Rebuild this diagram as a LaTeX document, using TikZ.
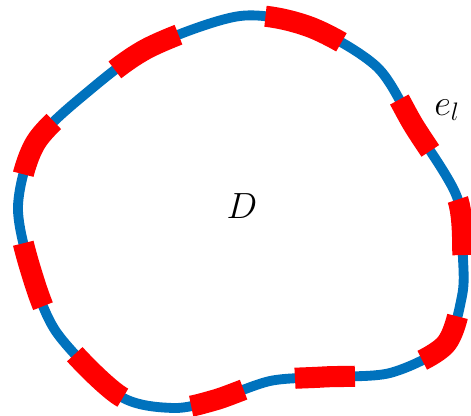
\documentclass[tikz,border=0pt]{standalone}
\usepackage{amsmath}
\usepackage{tikz}
\usetikzlibrary{positioning}
\definecolor{bndblue}{RGB}{0,114,189}

\begin{document}
\begin{tikzpicture}[x=0.02cm, y=-0.02cm,
  every node/.style={font=\fontsize{22.5}{27}\selectfont},
  bnd/.style={draw=bndblue, line width=5.6pt},
  elem/.style={draw=red, line width=12pt,
    dash pattern=on 34.15pt off 31.87pt on 31.87pt off 35.28pt on 33.58pt off 39.84pt
      on 34.15pt off 30.16pt on 31.30pt off 39.84pt on 36.99pt off 33.01pt
      on 37.56pt off 39.84pt on 35.28pt off 45.53pt on 41.54pt off 51.22pt
      on 42.11pt off 47.24pt,
    dash phase=685.2pt}]

\useasboundingbox (0,0) rectangle (471,416);

% boundary of the domain with its elements on top
\draw[bnd, postaction={elem}] plot[smooth cycle] coordinates {
  (240,16) (310,27) (377,67) (414,126) (457,197) (463,259) (462,296)
  (445,345) (390,373) (323,377) (270,381) (215,400) (173,408) (120,396)
  (57,333) (31,271) (18,206) (36,142) (90,90) (150,47)};

\node (dom) at (242,206) {$D$};
\node (edge) at (447,110) {$e_l$};
\end{tikzpicture}
\end{document}
